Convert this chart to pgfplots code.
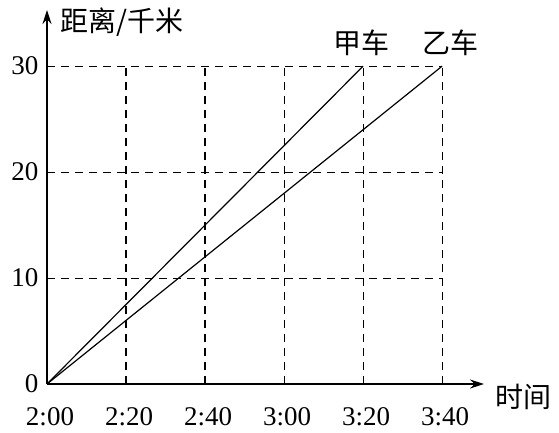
\documentclass[border=0pt]{standalone}
\usepackage{fontspec}
\setmainfont{Liberation Serif}
\newfontfamily\cjk{Noto Sans CJK SC}
\usepackage{pgfplots}
\pgfplotsset{compat=1.18}
\usetikzlibrary{arrows.meta}

\begin{document}
\begin{tikzpicture}
\begin{axis}[
  name=ax,
  scale only axis,
  width=437pt, height=374pt,
  xmin=0, xmax=110.6, ymin=0, ymax=35.3,
  axis lines=left,
  axis line style={line width=1.2pt, -{Stealth[length=14pt,width=9pt]}},
  xtick={0,20,40,60,80,100},
  xticklabels={2:00,2:20,2:40,3:00,3:20,3:40},
  ytick={0,10,20,30},
  major tick length=0pt,
  tick label style={font=\fontsize{27}{30}\selectfont},
  xticklabel style={yshift=-20pt, xshift=3pt},
  yticklabel style={xshift=-5pt},
  /pgf/number format/assume math mode=true,
  clip=false,
]
% grid, dashed, limited to the 0..30 / 2:00..3:40 rectangle
\pgfplotsinvokeforeach{20,40,60,80,100}{
  \addplot[black, line width=1.1pt, dash pattern=on 8pt off 6pt] coordinates {(#1,0) (#1,30)};
}
\pgfplotsinvokeforeach{10,20,30}{
  \addplot[black, line width=1.1pt, dash pattern=on 8pt off 6pt] coordinates {(0,#1) (100,#1)};
}
% 甲车 and 乙车
\addplot[black, line width=1.2pt] coordinates {(0,0) (80,30)};
\addplot[black, line width=1.2pt] coordinates {(0,0) (100,30)};

\node[anchor=south, inner sep=0pt, font=\cjk\fontsize{28}{30}\selectfont] at (axis cs:79.7,31) {甲车};
\node[anchor=south, inner sep=0pt, font=\cjk\fontsize{28}{30}\selectfont] at (axis cs:102,31) {乙车};
\node[anchor=west, inner sep=0pt, font=\cjk\fontsize{28}{30}\selectfont] at (axis cs:3.3,34.2) {距离/千米};
\node[anchor=west, inner sep=0pt, font=\cjk\fontsize{28}{30}\selectfont] at (axis cs:113.5,-1.2) {时间};
\end{axis}
\pgfresetboundingbox
\useasboundingbox ([shift={(-47pt,-48pt)}]ax.south west) rectangle ([shift={(75pt,10pt)}]ax.north east);
\end{tikzpicture}
\end{document}
